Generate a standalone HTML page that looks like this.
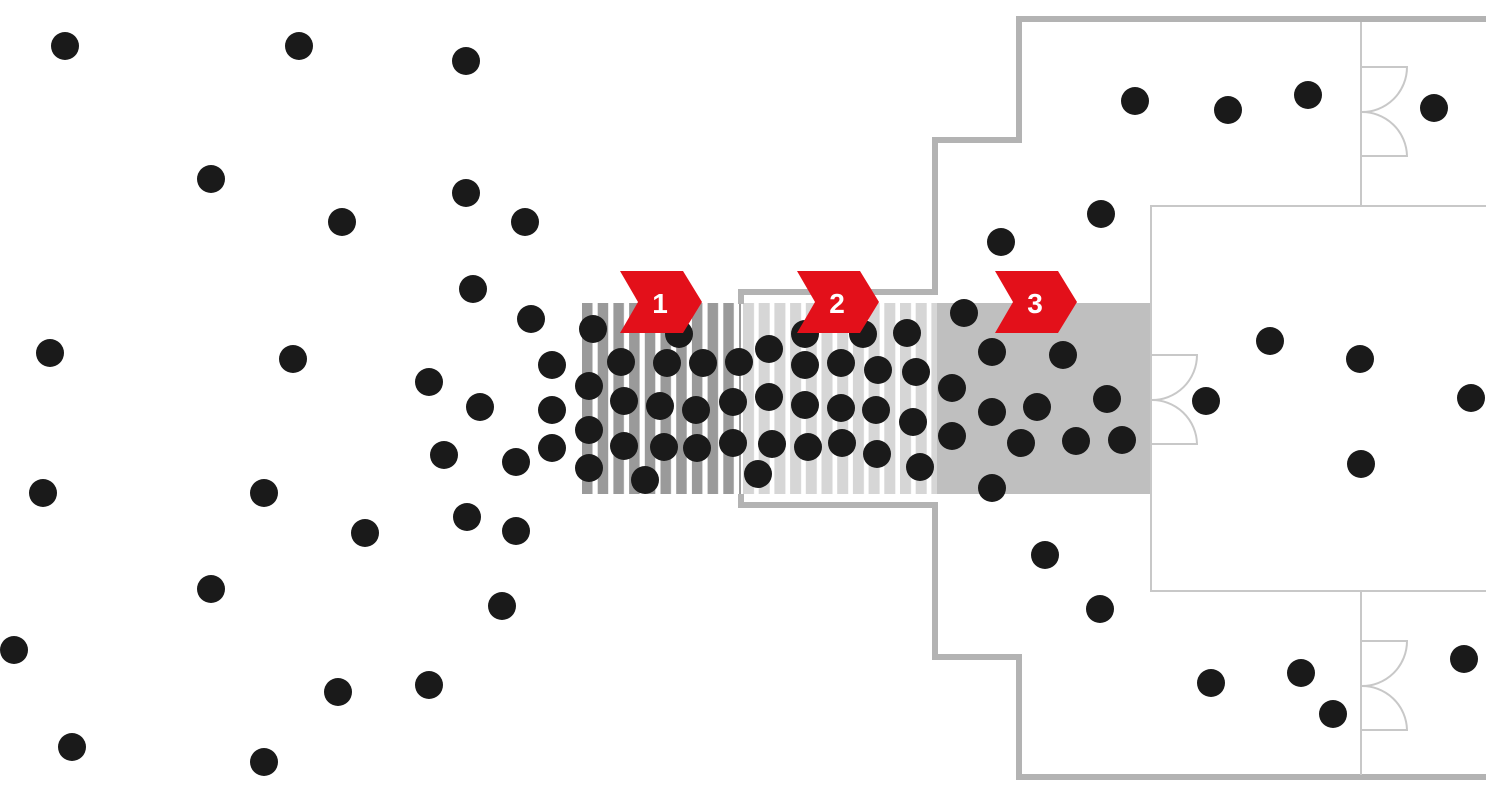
<!DOCTYPE html>
<html><head><style>html,body{margin:0;padding:0;background:#fff}svg{display:block}</style></head><body>
<svg width="1486" height="799" viewBox="0 0 1486 799" xmlns="http://www.w3.org/2000/svg">
<defs>
<pattern id="p1" x="582" y="0" width="15.7" height="10" patternUnits="userSpaceOnUse"><rect width="15.7" height="10" fill="#fff"/><rect width="10.5" height="10" fill="#9a9a9a"/></pattern>
<pattern id="p2" x="743" y="0" width="15.7" height="10" patternUnits="userSpaceOnUse"><rect width="15.7" height="10" fill="#fff"/><rect width="11" height="10" fill="#d6d6d6"/></pattern>
</defs>
<rect x="582" y="303" width="159" height="191" fill="url(#p1)"/>
<rect x="743" y="303" width="194" height="191" fill="url(#p2)"/>
<rect x="937" y="303" width="214" height="191" fill="#bfbfbf"/>
<g fill="none" stroke="#b3b3b3" stroke-width="6">
<polyline points="1486,19 1019,19 1019,140 935,140 935,292 741,292 741,304"/>
<polyline points="741,494 741,505 935,505 935,657 1019,657 1019,777 1486,777"/>
</g>
<g fill="none" stroke="#c8c8c8" stroke-width="2">
<rect x="1151" y="206" width="340" height="385"/>
<line x1="1361" y1="22" x2="1361" y2="206"/>
<line x1="1361" y1="591" x2="1361" y2="775"/>
<path d="M1361,67 H1407 A45,45 0 0 1 1361,112 A45,45 0 0 1 1407,156 H1361"/>
<path d="M1361,641 H1407 A45,45 0 0 1 1361,686 A45,45 0 0 1 1407,730 H1361"/>
<path d="M1151,355 H1197 A45,45 0 0 1 1151,400 A45,45 0 0 1 1197,444 H1151"/>
</g>
<g fill="#1a1a1a">
<circle cx="65" cy="46" r="14"/><circle cx="299" cy="46" r="14"/><circle cx="466" cy="61" r="14"/><circle cx="211" cy="179" r="14"/><circle cx="342" cy="222" r="14"/><circle cx="466" cy="193" r="14"/><circle cx="525" cy="222" r="14"/><circle cx="473" cy="289" r="14"/><circle cx="531" cy="319" r="14"/><circle cx="50" cy="353" r="14"/><circle cx="293" cy="359" r="14"/><circle cx="429" cy="382" r="14"/><circle cx="480" cy="407" r="14"/><circle cx="552" cy="365" r="14"/><circle cx="552" cy="410" r="14"/><circle cx="552" cy="448" r="14"/><circle cx="444" cy="455" r="14"/><circle cx="516" cy="462" r="14"/><circle cx="43" cy="493" r="14"/><circle cx="264" cy="493" r="14"/><circle cx="365" cy="533" r="14"/><circle cx="467" cy="517" r="14"/><circle cx="516" cy="531" r="14"/><circle cx="211" cy="589" r="14"/><circle cx="502" cy="606" r="14"/><circle cx="14" cy="650" r="14"/><circle cx="338" cy="692" r="14"/><circle cx="429" cy="685" r="14"/><circle cx="72" cy="747" r="14"/><circle cx="264" cy="762" r="14"/>
<circle cx="593" cy="329" r="14"/><circle cx="679" cy="334" r="14"/><circle cx="621" cy="362" r="14"/><circle cx="667" cy="363" r="14"/><circle cx="703" cy="363" r="14"/><circle cx="739" cy="362" r="14"/><circle cx="769" cy="349" r="14"/><circle cx="805" cy="334" r="14"/><circle cx="863" cy="334" r="14"/><circle cx="907" cy="333" r="14"/><circle cx="589" cy="386" r="14"/><circle cx="624" cy="401" r="14"/><circle cx="660" cy="406" r="14"/><circle cx="696" cy="410" r="14"/><circle cx="733" cy="402" r="14"/><circle cx="769" cy="397" r="14"/><circle cx="805" cy="365" r="14"/><circle cx="841" cy="363" r="14"/><circle cx="878" cy="370" r="14"/><circle cx="916" cy="372" r="14"/><circle cx="589" cy="430" r="14"/><circle cx="624" cy="446" r="14"/><circle cx="664" cy="447" r="14"/><circle cx="697" cy="448" r="14"/><circle cx="733" cy="443" r="14"/><circle cx="772" cy="444" r="14"/><circle cx="805" cy="405" r="14"/><circle cx="841" cy="408" r="14"/><circle cx="876" cy="410" r="14"/><circle cx="913" cy="422" r="14"/><circle cx="589" cy="468" r="14"/><circle cx="645" cy="480" r="14"/><circle cx="758" cy="474" r="14"/><circle cx="808" cy="447" r="14"/><circle cx="842" cy="443" r="14"/><circle cx="877" cy="454" r="14"/><circle cx="920" cy="467" r="14"/><circle cx="964" cy="313" r="14"/><circle cx="992" cy="352" r="14"/><circle cx="1063" cy="355" r="14"/><circle cx="952" cy="388" r="14"/><circle cx="992" cy="412" r="14"/><circle cx="1037" cy="407" r="14"/><circle cx="1107" cy="399" r="14"/><circle cx="952" cy="436" r="14"/><circle cx="1021" cy="443" r="14"/><circle cx="1076" cy="441" r="14"/><circle cx="1122" cy="440" r="14"/><circle cx="992" cy="488" r="14"/>
<circle cx="1001" cy="242" r="14"/><circle cx="1101" cy="214" r="14"/><circle cx="1135" cy="101" r="14"/><circle cx="1228" cy="110" r="14"/><circle cx="1308" cy="95" r="14"/><circle cx="1434" cy="108" r="14"/><circle cx="1270" cy="341" r="14"/><circle cx="1360" cy="359" r="14"/><circle cx="1471" cy="398" r="14"/><circle cx="1206" cy="401" r="14"/><circle cx="1361" cy="464" r="14"/><circle cx="1045" cy="555" r="14"/><circle cx="1100" cy="609" r="14"/><circle cx="1211" cy="683" r="14"/><circle cx="1301" cy="673" r="14"/><circle cx="1333" cy="714" r="14"/><circle cx="1464" cy="659" r="14"/>
</g>
<g fill="#e3101a">
<polygon points="620,271 683,271 702,302 683,333 620,333 638,302"/>
<polygon points="797,271 860,271 879,302 860,333 797,333 815,302"/>
<polygon points="995,271 1058,271 1077,302 1058,333 995,333 1013,302"/>
</g>
<g fill="#fff" font-family="Liberation Sans, sans-serif" font-weight="bold" font-size="28" text-anchor="middle">
<text x="660" y="313">1</text><text x="837" y="313">2</text><text x="1035" y="313">3</text>
</g>
</svg>
</body></html>
